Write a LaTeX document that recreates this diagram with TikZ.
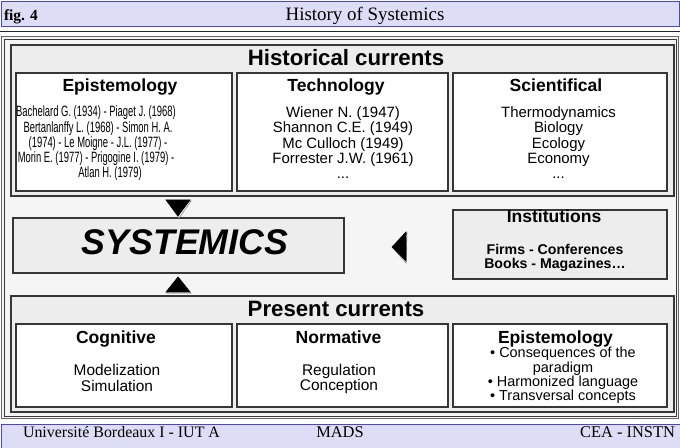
\documentclass[tikz,border=0pt]{standalone}
\usepackage{fontspec}
\setmainfont{Liberation Serif}
\newfontfamily\arial{Liberation Sans}
\newfontfamily\narrow[FakeStretch=0.63]{Liberation Sans}
\definecolor{barfill}{RGB}{221,221,246}
\definecolor{barline}{RGB}{70,70,210}
\definecolor{panel}{RGB}{245,245,245}
\definecolor{boxfill}{RGB}{237,237,237}
\definecolor{edge}{RGB}{55,55,55}
\begin{document}
\begin{tikzpicture}[x=1bp,y=-1bp,
  every node/.style={inner sep=0pt, outer sep=0pt},
  rect/.style={anchor=north west, inner sep=0pt, outer sep=0pt},
  bar/.style={rect, fill=barfill, draw=barline, line width=0.9bp},
  panelbox/.style={rect, fill=boxfill, draw=edge, line width=1.1bp},
  card/.style={rect, fill=white, draw=edge, line width=1.4bp},
  ttl/.style={font=\arial\bfseries\fontsize{22.3}{24}\selectfont, anchor=base},
  head/.style={font=\arial\bfseries\fontsize{17.6}{20}\selectfont, anchor=base},
  lst/.style={font=\arial\fontsize{15}{15.2}\selectfont, align=center, anchor=north},
  tri/.style={fill=black, draw=black, line width=0.6bp},
  trishadow/.style={fill=white, draw=gray, line width=0.6bp}]
\useasboundingbox (0,0) rectangle (680,448);
\fill[white] (0,0) rectangle (680,448);

% header
\node[bar, minimum width=678bp, minimum height=25bp] (hdr) at (1,1) {};
\node[anchor=base west, font=\bfseries\fontsize{15.5}{17}\selectfont] (fig) at (4,21) {fig. 4};
\node[anchor=base, font=\fontsize{19}{21}\selectfont] (title) at (365,21) {History of Systemics};
\draw[line width=1.5bp, black!85] (0,31.5) -- (680,31.5);

% outer frame
\node[rect, fill=panel, draw=gray!80!black, line width=1bp, minimum width=677bp, minimum height=382bp] (frame) at (1.5,36.5) {};
\node[rect, draw=edge, line width=0.7bp, minimum width=672bp, minimum height=377bp] (frameinner) at (4,39) {};

% historical currents
\node[panelbox, minimum width=663bp, minimum height=151bp] (hist) at (11,45) {};
\node[ttl] (histt) at (346,66) {Historical currents};
\node[card, minimum width=216bp, minimum height=118bp] (epi1) at (16,73) {};
\node[card, minimum width=211bp, minimum height=118bp] (tech) at (237,73) {};
\node[card, minimum width=214bp, minimum height=118bp] (sci) at (453,73) {};
\node[head] (epi1t) at (120,92) {Epistemology};
\node[head] (techt) at (336,92) {Technology};
\node[head] (scit) at (556,92) {Scientifical};
\node[font=\narrow\fontsize{15}{15.25}\selectfont, align=center, anchor=north] (epi1l) at (96,106)
  {Bachelard G. (1934) - Piaget J. (1968)\\
   \hspace*{4bp}Bertanlanffy L. (1968) - Simon H. A.\\
   \hspace*{4bp}(1974) - Le Moigne - J.L. (1977) -\\
   Morin E. (1977) - Prigogine I. (1979) -\\
   \hspace*{28bp}Atlan H. (1979)};
\node[lst] (techl) at (343,107) {Wiener N. (1947)\\Shannon C.E. (1949)\\Mc Culloch (1949)\\Forrester J.W. (1961)\\...};
\node[lst] (scil) at (558.5,107) {Thermodynamics\\Biology\\Ecology\\Economy\\...};

% systemics and institutions
\node[panelbox, minimum width=331bp, minimum height=55bp] (sys) at (13,218) {};
\node[anchor=base, font=\arial\bfseries\itshape\fontsize{35.8}{38}\selectfont] (syst) at (185,255) {SYSTEMICS};
\node[panelbox, minimum width=214bp, minimum height=69bp] (inst) at (453,210) {};
\node[head] (instt) at (554,223) {Institutions};
\node[font=\arial\bfseries\fontsize{14.2}{14}\selectfont, align=center, anchor=north] (instl) at (555,244) {Firms - Conferences\\Books - Magazines…};

% arrows
\fill[trishadow] (167,201) -- (191,201) -- (179,218) -- cycle;
\fill[tri] (166,200) -- (190,200) -- (178,216) -- cycle;
\fill[trishadow] (167,293) -- (191,293) -- (179,278) -- cycle;
\fill[tri] (166,292) -- (190,292) -- (178,277) -- cycle;
\fill[trishadow] (407,233) -- (393,248) -- (406,263) -- cycle;
\fill[tri] (406,232) -- (392,247) -- (406,261) -- cycle;

% present currents
\node[panelbox, minimum width=663bp, minimum height=116bp] (pres) at (11,296) {};
\node[ttl] (prest) at (336,317) {Present currents};
\node[card, minimum width=216bp, minimum height=83bp] (cog) at (16,324) {};
\node[card, minimum width=211bp, minimum height=83bp] (norm) at (237,324) {};
\node[card, minimum width=214bp, minimum height=83bp] (epi2) at (453,324) {};
\node[head] (cogt) at (116,343) {Cognitive};
\node[head] (normt) at (338.5,343) {Normative};
\node[head] (epi2t) at (555.5,343) {Epistemology};
\node[font=\arial\fontsize{15.5}{16}\selectfont, align=center, anchor=north] (cogl) at (117,364) {Modelization\\Simulation};
\node[font=\arial\fontsize{15.5}{15.5}\selectfont, align=center, anchor=north] (norml) at (339,364) {Regulation\\Conception};
\node[font=\arial\fontsize{14.5}{14.3}\selectfont, align=center, anchor=north] (epi2l) at (563,347.5)
  {• Consequences of the\\paradigm\\• Harmonized language\\• Transversal concepts};

% footer
\node[bar, minimum width=679bp, minimum height=30bp] (ftr) at (1,424.5) {};
\node[anchor=base west, font=\fontsize{16}{18}\selectfont] (univ) at (23,437) {Université Bordeaux I - IUT A};
\node[anchor=base, font=\fontsize{16.5}{18}\selectfont] (mads) at (340,437) {MADS};
\node[anchor=base east, font=\fontsize{16.5}{18}\selectfont] (cea) at (675,437) {CEA - INSTN};
\end{tikzpicture}
\end{document}
